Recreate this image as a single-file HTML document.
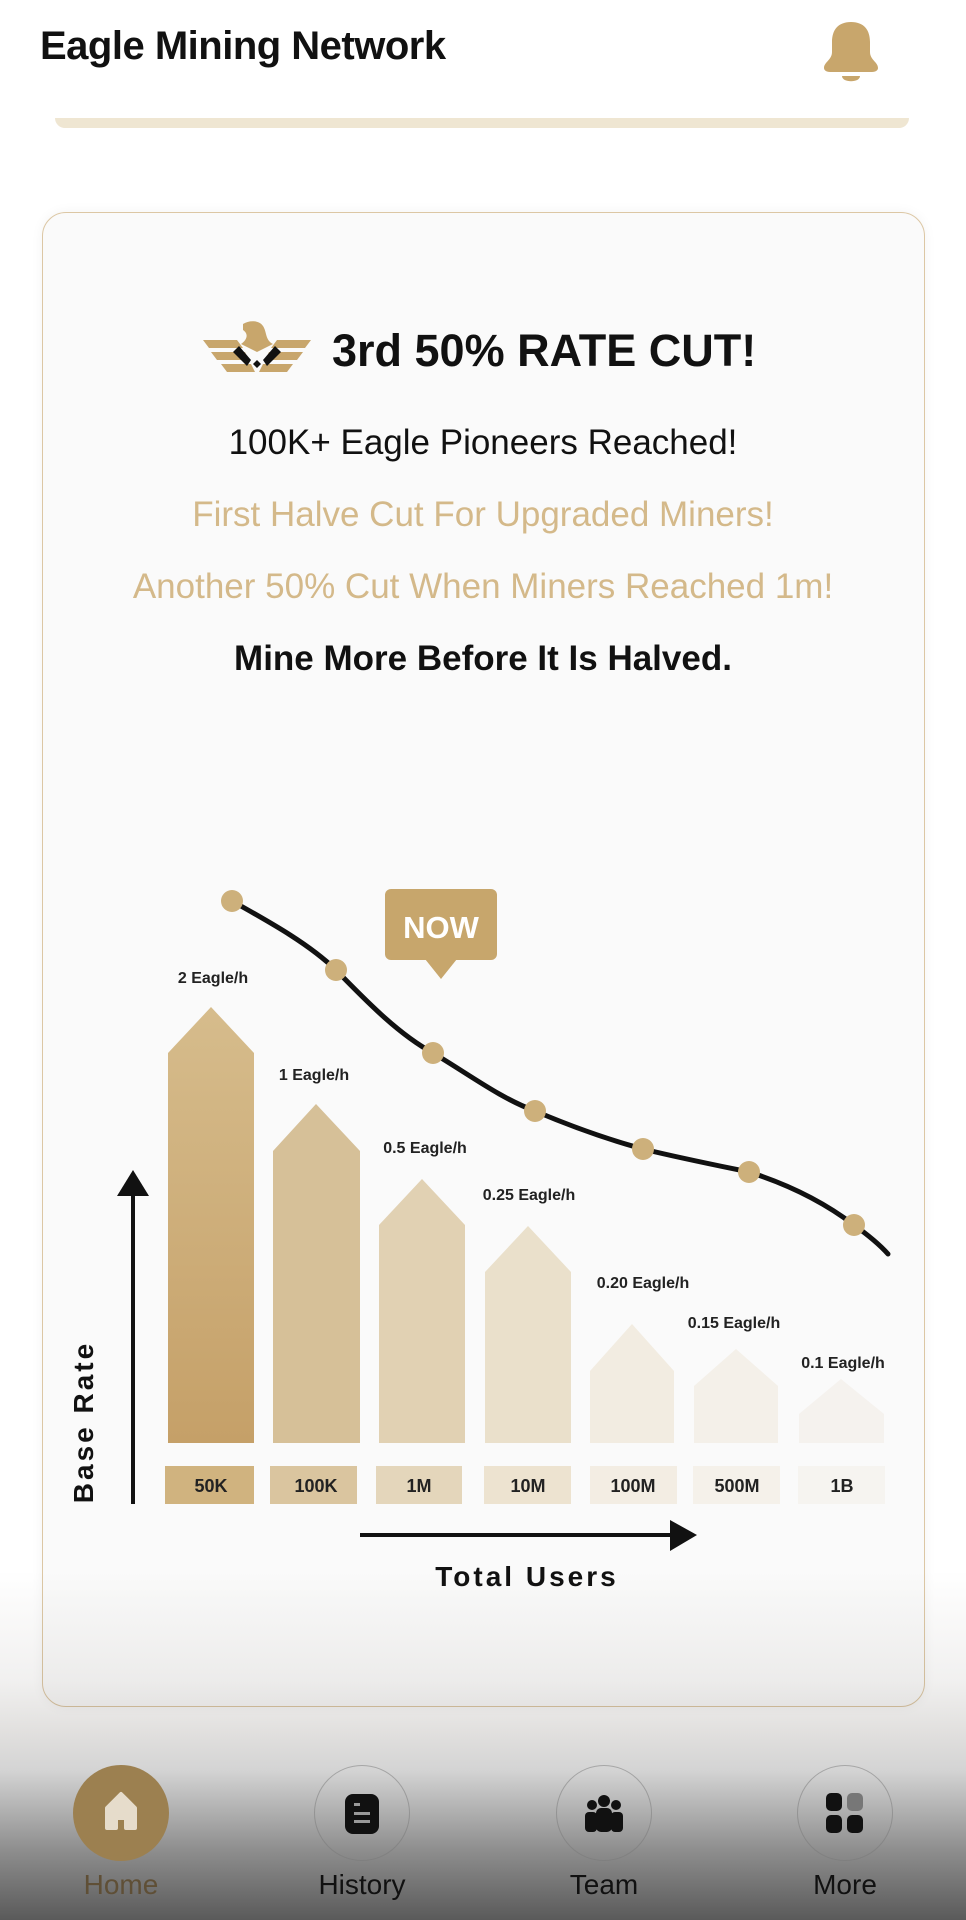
<!DOCTYPE html>
<html><head><meta charset="utf-8"><style>
*{margin:0;padding:0;box-sizing:border-box}
body{width:966px;height:1920px;position:relative;overflow:hidden;background:#fff;font-family:"Liberation Sans",sans-serif}
.t{position:absolute;white-space:nowrap}
.c{left:0;width:966px;text-align:center}
</style></head><body>
<div class="t" style="left:40px;top:24px;font-size:40px;font-weight:bold;color:#111;letter-spacing:-0.5px">Eagle Mining Network</div>
<svg style="position:absolute;left:818px;top:18px" width="66" height="70" viewBox="0 0 66 70">
<path d="M33 4 C20 4 14 12 14 24 L14 34 C14 42 6 44 6 50 C6 52 8 54 12 54 L54 54 C58 54 60 52 60 50 C60 44 52 42 52 34 L52 24 C52 12 46 4 33 4Z" fill="#c8a66c"/>
<path d="M24 58 L42 58 C42 65 24 65 24 58Z" fill="#c8a66c"/>
</svg>
<div style="position:absolute;left:55px;top:118px;width:854px;height:10px;background:#efe6d2;border-radius:0 0 10px 10px"></div>

<div style="position:absolute;left:42px;top:212px;width:883px;height:1495px;border:1.5px solid #dcc7a4;border-radius:24px;background:#fafafa;box-shadow:0 0 12px rgba(0,0,0,0.05)"></div>

<svg style="position:absolute;left:203px;top:320px" width="108" height="58" viewBox="0 0 108 58">
<path d="M0 20 L34 20 L40 28 L6 28Z M8 32 L42 32 L46 40 L14 40Z M18 44 L48 44 L52 52 L24 52Z" fill="#c8a66c"/>
<path d="M108 20 L74 20 L68 28 L102 28Z M100 32 L66 32 L62 40 L94 40Z M90 44 L60 44 L56 52 L84 52Z" fill="#c8a66c"/>
<path d="M40 4 C46 0 56 0 60 6 C64 12 62 20 70 24 L54 32 L38 24 C44 20 46 14 40 10Z" fill="#c8a66c"/>
<path d="M36 26 L48 40 L44 46 L30 32Z M72 26 L60 40 L64 46 L78 32Z M50 44 L54 48 L58 44 L54 40Z" fill="#111"/>
</svg>
<div class="t" style="left:332px;top:325px;font-size:45px;font-weight:bold;color:#111">3rd 50% RATE CUT!</div>
<div class="t c" style="top:423px;font-size:35px;color:#111">100K+ Eagle Pioneers Reached!</div>
<div class="t c" style="top:495px;font-size:35px;color:#d4b98a">First Halve Cut For Upgraded Miners!</div>
<div class="t c" style="top:567px;font-size:35px;color:#d4b98a">Another 50% Cut When Miners Reached 1m!</div>
<div class="t c" style="top:639px;font-size:35px;font-weight:bold;color:#111">Mine More Before It Is Halved.</div>

<svg style="position:absolute;left:0;top:0" width="966" height="1920" viewBox="0 0 966 1920">
<defs>
<linearGradient id="g1" x1="0" y1="0" x2="0" y2="1"><stop offset="0" stop-color="#d6bc8c"/><stop offset="1" stop-color="#c5a068"/></linearGradient>
</defs>
<polygon points="168,1053 211,1007 254,1053 254,1443 168,1443" fill="url(#g1)"/>
<polygon points="273,1151 316,1104 360,1151 360,1443 273,1443" fill="#d6c098"/>
<polygon points="379,1225 422,1179 465,1225 465,1443 379,1443" fill="#e1d1b3"/>
<polygon points="485,1272 528,1226 571,1272 571,1443 485,1443" fill="#eae0cb"/>
<polygon points="590,1371 632,1324 674,1371 674,1443 590,1443" fill="#f2ece1"/>
<polygon points="694,1386 736,1349 778,1386 778,1443 694,1443" fill="#f4f0e9"/>
<polygon points="799,1414 841,1379 884,1414 884,1443 799,1443" fill="#f5f2ee"/>
<rect x="165" y="1466" width="89" height="38" fill="#d0b37f"/>
<rect x="270" y="1466" width="87" height="38" fill="#dac59f"/>
<rect x="376" y="1466" width="86" height="38" fill="#e4d6bb"/>
<rect x="484" y="1466" width="87" height="38" fill="#ede3d0"/>
<rect x="590" y="1466" width="87" height="38" fill="#f3ede3"/>
<rect x="693" y="1466" width="87" height="38" fill="#f5f1ea"/>
<rect x="798" y="1466" width="87" height="38" fill="#f6f4f0"/>
<g font-family="Liberation Sans" font-weight="bold" font-size="18" fill="#222" text-anchor="middle">
<text x="211" y="1492">50K</text><text x="316" y="1492">100K</text><text x="419" y="1492">1M</text><text x="528" y="1492">10M</text><text x="633" y="1492">100M</text><text x="737" y="1492">500M</text><text x="842" y="1492">1B</text>
</g>
<g font-family="Liberation Sans" font-weight="bold" font-size="16" fill="#222" text-anchor="middle">
<text x="213" y="983">2 Eagle/h</text><text x="314" y="1080">1 Eagle/h</text><text x="425" y="1153">0.5 Eagle/h</text><text x="529" y="1200">0.25 Eagle/h</text><text x="643" y="1288">0.20 Eagle/h</text><text x="734" y="1328">0.15 Eagle/h</text><text x="843" y="1368">0.1 Eagle/h</text>
</g>
<path d="M232 901 C275 925 310 945 336 970 C370 1005 400 1035 433 1053 C470 1075 500 1098 535 1111 C575 1128 610 1140 643 1149 C680 1158 715 1165 749 1172 C790 1185 825 1203 854 1225 C868 1235 880 1245 888 1254" fill="none" stroke="#111" stroke-width="5" stroke-linecap="round"/>
<g fill="#cdb07b"><circle cx="232" cy="901" r="11"/><circle cx="336" cy="970" r="11"/><circle cx="433" cy="1053" r="11"/><circle cx="535" cy="1111" r="11"/><circle cx="643" cy="1149" r="11"/><circle cx="749" cy="1172" r="11"/><circle cx="854" cy="1225" r="11"/></g>
<rect x="385" y="889" width="112" height="71" rx="6" fill="#c7a66c"/>
<polygon points="425,959 457,959 441,979" fill="#c7a66c"/>
<text x="441" y="938" font-family="Liberation Sans" font-weight="bold" font-size="31" fill="#fff" text-anchor="middle">NOW</text>
<line x1="133" y1="1504" x2="133" y2="1190" stroke="#111" stroke-width="4"/>
<polygon points="117,1196 149,1196 133,1170" fill="#111"/>
<line x1="360" y1="1535" x2="675" y2="1535" stroke="#111" stroke-width="4"/>
<polygon points="670,1520 670,1551 697,1535" fill="#111"/>
<text transform="translate(93,1422) rotate(-90)" font-family="Liberation Sans" font-weight="bold" font-size="28" letter-spacing="3" fill="#111" text-anchor="middle">Base Rate</text>
<text x="527" y="1586" font-family="Liberation Sans" font-weight="bold" font-size="28" letter-spacing="3" fill="#111" text-anchor="middle">Total Users</text>
</svg>

<div style="position:absolute;left:0;top:1570px;width:966px;height:350px;background:linear-gradient(rgba(0,0,0,0) 0px,rgba(60,50,40,0.07) 110px,rgba(60,50,40,0.15) 160px,rgba(40,40,40,0.2) 200px,rgba(30,30,30,0.5) 280px,rgba(20,20,20,0.7) 350px)"></div>

<div style="position:absolute;left:73px;top:1765px;width:96px;height:96px;border-radius:50%;background:#9c8050"></div>
<svg style="position:absolute;left:97px;top:1788px" width="48" height="50" viewBox="0 0 48 50"><path d="M24 6 L38 20 L38 40 L29 40 L29 30 L19 30 L19 40 L10 40 L10 20Z" fill="#e6dccb" stroke="#e6dccb" stroke-width="4" stroke-linejoin="round"/></svg>
<div style="position:absolute;left:314px;top:1765px;width:96px;height:96px;border-radius:50%;border:1px solid rgba(120,120,120,0.5)"></div>
<svg style="position:absolute;left:344px;top:1793px" width="36" height="42" viewBox="0 0 36 42"><rect x="1" y="1" width="34" height="40" rx="8" fill="#111"/><rect x="10" y="10" width="6" height="3" fill="#999"/><rect x="10" y="19" width="16" height="3" fill="#999"/><rect x="10" y="27" width="16" height="3" fill="#999"/></svg>
<div style="position:absolute;left:556px;top:1765px;width:96px;height:96px;border-radius:50%;border:1px solid rgba(120,120,120,0.5)"></div>
<svg style="position:absolute;left:582px;top:1794px" width="44" height="40" viewBox="0 0 44 40"><circle cx="22" cy="7" r="6" fill="#111"/><circle cx="10" cy="11" r="5" fill="#111"/><circle cx="34" cy="11" r="5" fill="#111"/><rect x="14" y="14" width="16" height="24" rx="5" fill="#111"/><rect x="3" y="18" width="12" height="20" rx="4" fill="#111"/><rect x="29" y="18" width="12" height="20" rx="4" fill="#111"/></svg>
<div style="position:absolute;left:797px;top:1765px;width:96px;height:96px;border-radius:50%;border:1px solid rgba(120,120,120,0.5)"></div>
<svg style="position:absolute;left:825px;top:1792px" width="40" height="42" viewBox="0 0 40 42"><rect x="1" y="1" width="16" height="18" rx="5" fill="#111"/><rect x="22" y="1" width="16" height="18" rx="5" fill="#777"/><rect x="1" y="23" width="16" height="18" rx="5" fill="#111"/><rect x="22" y="23" width="16" height="18" rx="5" fill="#111"/></svg>
<div class="t" style="left:21px;width:200px;text-align:center;top:1869px;font-size:28px;color:#5f4f36">Home</div>
<div class="t" style="left:262px;width:200px;text-align:center;top:1869px;font-size:28px;color:#111">History</div>
<div class="t" style="left:504px;width:200px;text-align:center;top:1869px;font-size:28px;color:#111">Team</div>
<div class="t" style="left:745px;width:200px;text-align:center;top:1869px;font-size:28px;color:#111">More</div>
</body></html>
